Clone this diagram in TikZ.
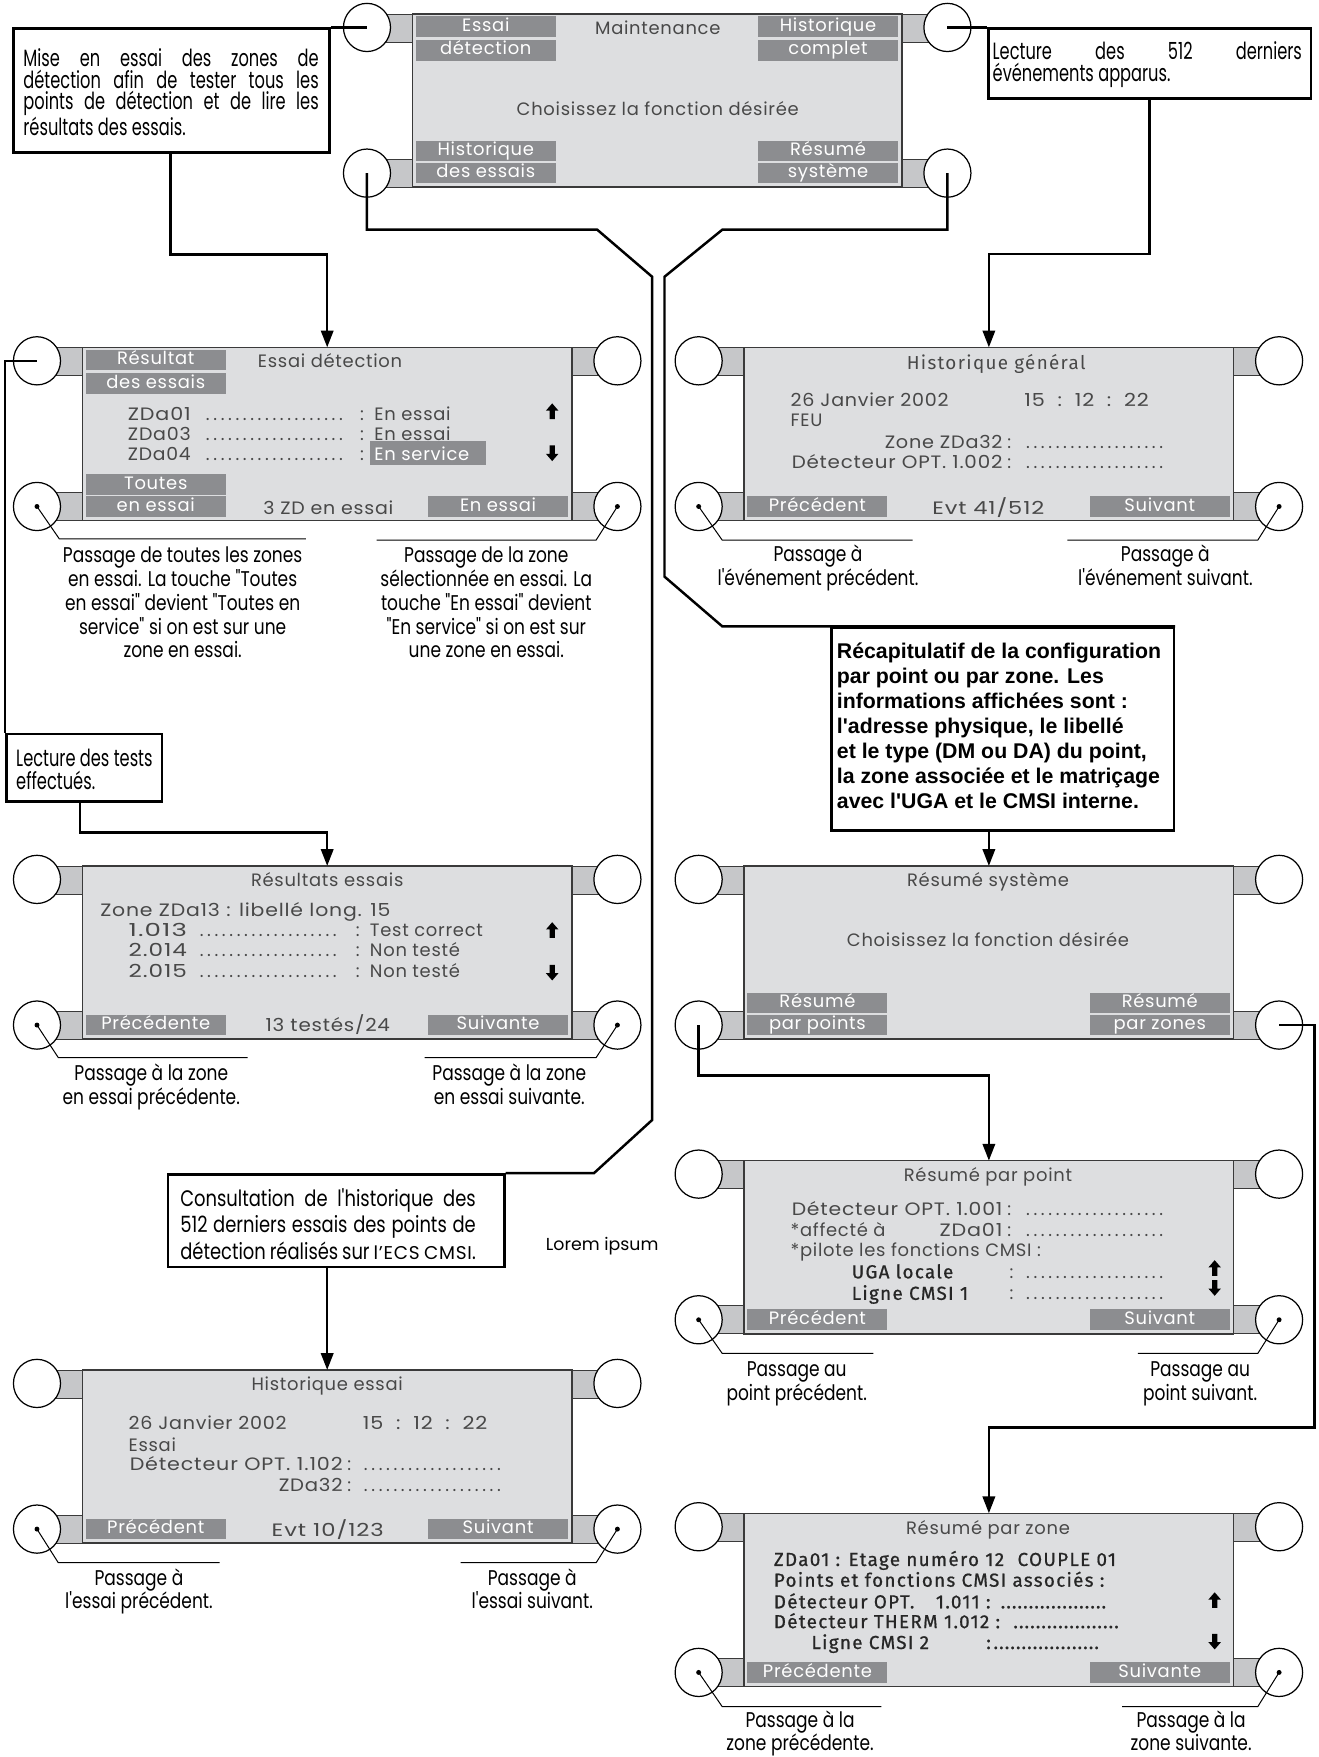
\documentclass[tikz,border=0pt]{standalone}
\usepackage{fontspec}
\usepackage{graphicx}
\usetikzlibrary{arrows.meta,shapes.geometric}
\setmainfont{Poppins}
\newfontfamily\scrf[LetterSpace=4]{Poppins}
\newfontfamily\condf[FakeStretch=0.8]{Poppins}
\newfontfamily\condc[FakeStretch=0.69]{Poppins}
\newfontfamily\arbf{Liberation Sans}
\newfontfamily\semif[LetterSpace=7]{Fira Sans}
\newfontfamily\semib[LetterSpace=7,FakeBold=0.8]{Fira Sans}
\definecolor{scrfill}{HTML}{DDDEE0}
\definecolor{tabfill}{HTML}{C6C7C9}
\definecolor{btnfill}{HTML}{8C8D90}
\definecolor{scrtext}{HTML}{484848}
\definecolor{scredge}{HTML}{3A3A3A}
\newcommand\scrS{\scrf\fontsize{16}{18}\selectfont}
\newcommand\semS{\semif\fontsize{16.8}{18}\selectfont}
\newcommand\semB{\semib\fontsize{16.8}{18}\selectfont}
\newcommand\annS[1][21.3]{\condf\fontsize{19}{#1}\selectfont}
\newcommand\calS[1][19.3]{\condc\fontsize{21}{#1}\selectfont}
\newcommand\Ldots[2][6.6]{\hbox to #2pt{\leaders\hbox to #1pt{\hss.\hss}\hfil}}
\newcommand\J[1]{\makebox[\linewidth][s]{#1}}
\newcommand\HW[2]{\resizebox{#1pt}{\height}{#2}}
\newcommand\UpA[2]{\fill[black] (#1,#2-7) -- (#1+5.6,#2-0.5) -- (#1+2.3,#2-0.5) -- (#1+2.3,#2+7) -- (#1-2.3,#2+7) -- (#1-2.3,#2-0.5) -- (#1-5.6,#2-0.5) -- cycle;}
\newcommand\DnA[2]{\fill[black] (#1,#2+7) -- (#1+5.6,#2+0.5) -- (#1+2.3,#2+0.5) -- (#1+2.3,#2-7) -- (#1-2.3,#2-7) -- (#1-2.3,#2+0.5) -- (#1-5.6,#2+0.5) -- cycle;}
\newcommand\Btn[4]{\node[btn] (#1) at (#2,#3) {#4};}
\newenvironment{scrn}[3]{%
  \begin{scope}[shift={(#2,#3)}]
    \draw[tabbox] (-30,0) rectangle (0,25);
    \draw[tabbox] (-30,129.5) rectangle (0,154.5);
    \draw[tabbox] (437,0) rectangle (467,25);
    \draw[tabbox] (437,129.5) rectangle (467,154.5);
    \draw[scrbox] (0,0) rectangle (437,154.5);
    \node[knob] (#1-tl) at (-40.5,12) {};
    \node[knob] (#1-bl) at (-40.5,142) {};
    \node[knob] (#1-tr) at (477.5,12) {};
    \node[knob] (#1-br) at (477.5,142) {};
    \coordinate (#1-top) at (218.5,0);
}{\end{scope}}
\tikzset{
  knob/.style={ellipse, draw=black, line width=1.1, fill=white, minimum width=42, minimum height=43, inner sep=0},
  tabbox/.style={fill=tabfill, draw=scredge, line width=0.8},
  scrbox/.style={fill=scrfill, draw=scredge, line width=1.3},
  btn/.style={fill=btnfill, text=white, inner sep=0, minimum width=125, minimum height=18.5, text height=11.5, text depth=3, font=\scrS},
  st/.style={inner sep=0, text=scrtext, font=\scrS, anchor=base west},
  stc/.style={inner sep=0, text=scrtext, font=\scrS, anchor=base},
  sm/.style={inner sep=0, text=black!85, font=\semB, anchor=base west},
  conn/.style={line width=2.2, black},
  arr/.style={conn, -{Triangle[length=15pt,width=11pt]}},
  ann/.style={line width=0.9, black},
  callout/.style={draw=black, line width=2.2, fill=white, inner sep=0},
  ct/.style={inner sep=0, anchor=base west},
  anntext/.style={inner sep=0, anchor=base},
}
\begin{document}
\begin{tikzpicture}[x=1pt,y=-1pt]
\useasboundingbox (0,0) rectangle (1177,1568);
\fill[white] (0,0) rectangle (1177,1568);

% ---------- S1 Maintenance
\begin{scrn}{s1}{368}{12.5}
  \node[stc] (s1-title) at (219,18.5) {Maintenance};
  \node[stc] (s1-msg) at (219,90.5) {Choisissez la fonction désirée};
  \Btn{s1-b1}{65.5}{11.25}{Essai}
  \Btn{s1-b2}{65.5}{32.25}{détection}
  \Btn{s1-b3}{65.5}{122.25}{Historique}
  \Btn{s1-b4}{65.5}{142}{des essais}
  \Btn{s1-b5}{371}{11.25}{Historique}
  \Btn{s1-b6}{371}{32.25}{complet}
  \Btn{s1-b7}{371}{122.25}{Résumé}
  \Btn{s1-b8}{371}{142}{système}
\end{scrn}

% ---------- S2 Essai detection
\begin{scrn}{s2}{73.5}{310}
  \node[st] (s2-title) at (156.5,18) {Essai détection};
  \fill[btnfill] (256.5,83.6) rectangle (360.5,105);
  \node[st] (s2-r1) at (40.5,65) {\makebox[68pt][l]{\HW{56}{ZDa01}}\Ldots{130}\makebox[22pt][c]{:}En essai};
  \node[st] (s2-r2) at (40.5,83) {\makebox[68pt][l]{\HW{56}{ZDa03}}\Ldots{130}\makebox[22pt][c]{:}En essai};
  \node[st] (s2-r3) at (40.5,101) {\makebox[68pt][l]{\HW{56}{ZDa04}}\Ldots{130}\makebox[22pt][c]{:}\textcolor{white}{En service}};
  \UpA{419.3}{57}
  \DnA{419.3}{94.5}
  \Btn{s2-b1}{65.5}{11.25}{Résultat}
  \Btn{s2-b2}{65.5}{32.25}{des essais}
  \Btn{s2-b3}{65.5}{122.25}{Toutes}
  \Btn{s2-b4}{65.5}{142}{en essai}
  \Btn{s2-b5}{371}{142}{En essai}
  \node[stc] (s2-cnt) at (219.5,149) {\HW{116}{3 ZD en essai}};
\end{scrn}

% ---------- S3 Historique general
\begin{scrn}{s3}{664}{310}
  \node[stc, font=\semS] (s3-title) at (225,20) {Historique général};
  \node[st] (s3-r1) at (41.4,53) {\makebox[208.6pt][l]{\HW{141}{26 Janvier 2002}}\HW{111}{15~~:~~12~~:~~22}};
  \node[st] (s3-r2) at (41.4,71) {FEU};
  \node[st] (s3-r3) at (41.4,90) {\makebox[189pt][r]{\HW{105}{Zone ZDa32}}\makebox[12pt][c]{:}\hspace{7.6pt}\Ldots{129}};
  \node[st] (s3-r4) at (41.4,108) {\makebox[189pt][r]{\HW{188}{Détecteur OPT. 1.002}}\makebox[12pt][c]{:}\hspace{7.6pt}\Ldots{129}};
  \Btn{s3-b1}{65.5}{142}{Précédent}
  \Btn{s3-b2}{371}{142}{Suivant}
  \node[stc] (s3-cnt) at (218,149) {\HW{100}{Evt 41/512}};
\end{scrn}

% ---------- S4 Resultats essais
\begin{scrn}{s4}{73.5}{772.8}
  \node[stc] (s4-title) at (218.5,18) {Résultats essais};
  \node[st] (s4-r0) at (15.8,45) {\HW{259}{Zone ZDa13 : libellé long. 15}};
  \node[st] (s4-r1) at (41.1,63) {\makebox[61.9pt][l]{\HW{52}{1.013}}\Ldots{131.5}\makebox[22pt][c]{:}Test correct};
  \node[st] (s4-r2) at (41.1,81) {\makebox[61.9pt][l]{\HW{52}{2.014}}\Ldots{131.5}\makebox[22pt][c]{:}Non testé};
  \node[st] (s4-r3) at (41.1,99.5) {\makebox[61.9pt][l]{\HW{52}{2.015}}\Ldots{131.5}\makebox[22pt][c]{:}Non testé};
  \UpA{419.3}{57.2}
  \DnA{419.3}{95.2}
  \Btn{s4-b1}{65.5}{142}{Précédente}
  \Btn{s4-b2}{371}{142}{Suivante}
  \node[stc] (s4-cnt) at (219,148) {\HW{111}{13 testés/24}};
\end{scrn}

% ---------- S5 Historique essai
\begin{scrn}{s5}{73.5}{1222.6}
  \node[stc] (s5-title) at (218.5,18.5) {Historique essai};
  \node[st] (s5-r1) at (41.1,53.5) {\makebox[209.1pt][l]{\HW{141}{26 Janvier 2002}}\HW{111}{15~~:~~12~~:~~22}};
  \node[st] (s5-r2) at (41.1,73) {Essai};
  \node[st] (s5-r3) at (41.1,89.5) {\makebox[191pt][r]{\HW{190}{Détecteur OPT. 1.102}}\makebox[12pt][c]{:}\hspace{5.4pt}\Ldots{131.5}};
  \node[st] (s5-r4) at (41.1,108.5) {\makebox[191pt][r]{\HW{57}{ZDa32}}\makebox[12pt][c]{:}\hspace{5.4pt}\Ldots{131.5}};
  \Btn{s5-b1}{65.5}{142}{Précédent}
  \Btn{s5-b2}{371}{142}{Suivant}
  \node[stc] (s5-cnt) at (219,148.5) {\HW{100}{Evt 10/123}};
\end{scrn}

% ---------- S6 Resume systeme
\begin{scrn}{s6}{664}{772.8}
  \node[stc] (s6-title) at (217.7,18) {Résumé système};
  \node[stc] (s6-msg) at (217.7,72) {Choisissez la fonction désirée};
  \Btn{s6-b1}{65.5}{122.25}{Résumé}
  \Btn{s6-b2}{65.5}{142}{par points}
  \Btn{s6-b3}{371}{122.25}{Résumé}
  \Btn{s6-b4}{371}{142}{par zones}
\end{scrn}

% ---------- S7 Resume par point
\begin{scrn}{s7}{664}{1035.8}
  \node[stc] (s7-title) at (217.7,18.7) {Résumé par point};
  \node[st] (s7-r1) at (41.4,49) {\makebox[189pt][r]{\HW{188}{Détecteur OPT. 1.001}}\makebox[12pt][c]{:}\hspace{7.6pt}\Ldots{129}};
  \node[st] (s7-r2) at (41.4,67.8) {\makebox[189pt][l]{*affecté à\hfill \HW{56}{ZDa01}}\makebox[12pt][c]{:}\hspace{7.6pt}\Ldots{129}};
  \node[st] (s7-r3) at (41.4,85.7) {*pilote les fonctions CMSI :};
  \node[st] (s7-r4) at (95.9,105) {\makebox[136.7pt][l]{\semB\color{black!85}UGA locale}\makebox[12pt][c]{:}\hspace{5.4pt}\Ldots{129}};
  \node[st] (s7-r5) at (95.9,124.2) {\makebox[136.7pt][l]{\semB\color{black!85}Ligne CMSI 1}\makebox[12pt][c]{:}\hspace{5.4pt}\Ldots{129}};
  \UpA{420}{95.8}
  \DnA{420}{113.6}
  \Btn{s7-b1}{65.5}{142}{Précédent}
  \Btn{s7-b2}{371}{142}{Suivant}
\end{scrn}

% ---------- S8 Resume par zone
\begin{scrn}{s8}{664}{1350.5}
  \node[stc] (s8-title) at (217.7,19) {Résumé par zone};
  \node[sm] (s8-r1) at (26.4,47) {ZDa01 : Etage numéro 12\hspace{12pt}COUPLE 01};
  \node[sm] (s8-r2) at (26.4,65.5) {Points et fonctions CMSI associés :};
  \node[sm] (s8-r3) at (26.4,84.8) {\makebox[144.6pt][l]{Détecteur OPT.}\makebox[57.4pt][l]{1.011 :}\Ldots[5]{97.6}};
  \node[sm] (s8-r4) at (26.4,102.5) {\makebox[213.3pt][l]{Détecteur THERM 1.012 :}\Ldots[5]{97.3}};
  \node[sm] (s8-r5) at (60,121.1) {\makebox[156pt][l]{Ligne CMSI 2}\makebox[6pt][l]{:}\Ldots[5]{99}};
  \UpA{420}{77.5}
  \DnA{420}{114.5}
  \Btn{s8-b1}{65.5}{142}{Précédente}
  \Btn{s8-b2}{371}{142}{Suivante}
\end{scrn}

% ---------- callouts
\node[callout, minimum width=282, minimum height=110.5, anchor=north west] (c1) at (11,24.5) {};
\node[ct] (c1-t) at (20.7,59.5) {\parbox[t]{263.6pt}{\calS[19.3]\J{Mise en essai des zones de}\\\J{détection afin de tester tous les}\\\J{points de détection et de lire les}\\résultats des essais.}};

\node[callout, minimum width=288, minimum height=62.3, anchor=north west] (c2) at (881,24.5) {};
\node[ct] (c2-t) at (885.7,53) {\parbox[t]{276pt}{\calS[19.9]\J{Lecture des 512 derniers}\\événements apparus.}};

\node[callout, minimum width=305.4, minimum height=181, anchor=north west] (c3) at (741,559) {};
\node[ct] (c3-t) at (746.7,587.5) {\parbox[t]{300pt}{\arbf\bfseries\fontsize{19}{22.3}\selectfont Récapitulatif de la configuration\\par point ou par zone. Les\\informations affichées sont :\\l'adresse physique, le libellé\\et le type (DM ou DA) du point,\\la zone associée et le matriçage\\avec l'UGA et le CMSI interne.}};

\node[callout, minimum width=139, minimum height=60.2, anchor=north west] (c4) at (4.5,653.8) {};
\node[ct] (c4-t) at (14.3,683.6) {\parbox[t]{125pt}{\calS[21.4]Lecture des tests\\effectués.}};

\node[callout, minimum width=300.3, minimum height=82.8, anchor=north east] (c5) at (451.3,1047) {};
\node[ct] (c5-t) at (160.7,1076.4) {\parbox[t]{263.7pt}{\condf\fontsize{20}{23.8}\selectfont\J{Consultation de l'historique des}\\\J{512 derniers essais des points de}\\\J{détection réalisés sur {\scrf\fontsize{16.5}{20}\selectfont l’ECS CMSI}.}}};

\node[inner sep=0, anchor=base west, font=\fontsize{15.5}{18}\selectfont] (lorem) at (487,1116) {Lorem ipsum};

% ---------- annotations
\node[anntext] (a2l) at (163,502) {\parbox[t]{320pt}{\centering\annS Passage de toutes les zones\\en essai. La touche "Toutes\\en essai" devient "Toutes en\\service" si on est sur une\\zone en essai.}};
\node[anntext] (a2r) at (434,502) {\parbox[t]{320pt}{\centering\annS Passage de la zone\\sélectionnée en essai. La\\touche "En essai" devient\\"En service" si on est sur\\une zone en essai.}};
\node[anntext] (a3l) at (730,501) {\parbox[t]{320pt}{\centering\annS Passage à\\l'événement précédent.}};
\node[anntext] (a3r) at (1040,501) {\parbox[t]{260pt}{\centering\annS Passage à\\l'événement suivant.}};
\node[anntext] (a4l) at (135,964.6) {\parbox[t]{260pt}{\centering\annS Passage à la zone\\en essai précédente.}};
\node[anntext] (a4r) at (454.5,964.6) {\parbox[t]{260pt}{\centering\annS Passage à la zone\\en essai suivante.}};
\node[anntext] (a5l) at (124,1414.5) {\parbox[t]{240pt}{\centering\annS Passage à\\l'essai précédent.}};
\node[anntext] (a5r) at (475,1414.5) {\parbox[t]{240pt}{\centering\annS Passage à\\l'essai suivant.}};
\node[anntext] (a7l) at (711,1228.6) {\parbox[t]{240pt}{\centering\annS Passage au\\point précédent.}};
\node[anntext] (a7r) at (1071,1228.6) {\parbox[t]{240pt}{\centering\annS Passage au\\point suivant.}};
\node[anntext] (a8l) at (714,1542) {\parbox[t]{240pt}{\centering\annS[20] Passage à la\\zone précédente.}};
\node[anntext] (a8r) at (1063,1542) {\parbox[t]{240pt}{\centering\annS[20] Passage à la\\zone suivante.}};

% annotation leaders
\foreach \s in {s2,s3,s4,s5,s7,s8}{
  \fill (\s-bl.center) circle (2.2);
  \fill (\s-br.center) circle (2.2);
}
\draw[ann] (s2-bl.center) -- ++(20,29) -- ++(220,0);
\draw[ann] (s2-br.center) -- ++(-19,30) -- ++(-196,0);
\draw[ann] (s3-bl.center) -- ++(21,30) -- ++(170,0);
\draw[ann] (s3-br.center) -- ++(-19,30) -- ++(-170,0);
\draw[ann] (s4-bl.center) -- ++(19,29) -- ++(169,0);
\draw[ann] (s4-br.center) -- ++(-19,29) -- ++(-153,0);
\draw[ann] (s5-bl.center) -- ++(19,30) -- ++(144,0);
\draw[ann] (s5-br.center) -- ++(-19,30) -- ++(-121,0);
\draw[ann] (s7-bl.center) -- ++(21,30) -- ++(135,0);
\draw[ann] (s7-br.center) -- ++(-19,30) -- ++(-107,0);
\draw[ann] (s8-bl.center) -- ++(21,30.5) -- ++(142,0);
\draw[ann] (s8-br.center) -- ++(-19,30.5) -- ++(-121,0);

% ---------- connectors
\draw[conn] (c1.north east) -- (s1-tl.center);
\draw[arr] ([xshift=141pt]c1.south west) -- ++(0,90) -| (s2-top);
\draw[conn] (s1-bl.center) -- ++(0,50.5) -- (533,205) -- (582,247) -- (582,999.5) -- (530,1047) -- (c5.north east);
\draw[arr] (c5.south -| s5-top) -- (s5-top);
\draw[conn] (s1-tr.center) -- (c2.north west);
\draw[arr] ([xshift=144.8pt]c2.south west) -- ++(0,137.8) -| (s3-top);
\draw[conn] (s1-br.center) -- ++(0,50.5) -- (644.6,205) -- (593,247) -- (593,514.6) -- (644.6,559) -- (c3.north east);
\draw[arr] (c3.south -| s6-top) -- (s6-top);
\draw[conn] (s2-tl.center) -| (c4.north west);
\draw[arr] ([xshift=66.9pt]c4.south west) -- ++(0,26.7) -| (s4-top);
\draw[arr] (s6-bl.center) -- ++(0,45) -| (s7-top);
\draw[arr] (s6-br.center) -- ++(31.5,0) -- ++(0,359) -| (s8-top);
\end{tikzpicture}
\end{document}
